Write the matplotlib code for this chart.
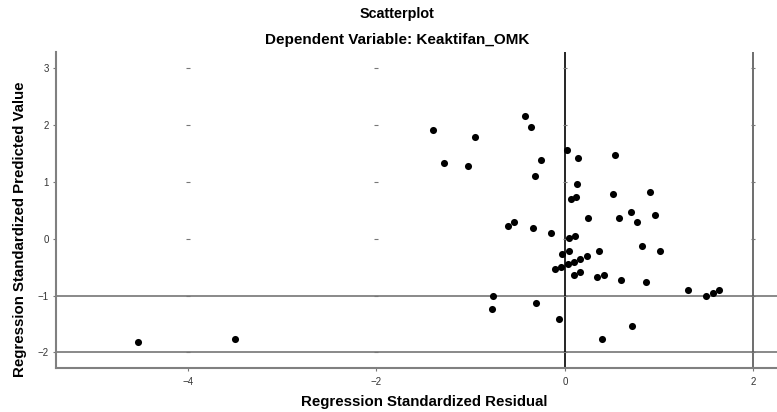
import matplotlib
matplotlib.use("Agg")
import matplotlib.pyplot as plt
import numpy as np

plt.rcParams['font.family'] = ['Liberation Sans', 'DejaVu Sans']

# standardized residual (x) and standardized predicted value (y)
resid = [0.02, -0.25, 0.14, 0.53, -0.32, 0.13, 0.51, 0.90, 0.06, 0.12,
         0.24, 0.57, 0.70, 0.76, 0.96, -0.60, -0.54, -0.34, -0.15, 0.04,
         0.11, 0.82, 1.01, -0.03, 0.04, 0.36, -0.10, -0.04, 0.03, 0.10,
         0.16, 0.23, 0.10, 0.16, 0.34, 0.41, 0.60, 0.86, 1.31, 1.50,
         1.57, 1.63, 0.71, 0.39, -0.76, -0.77, -0.31, -0.06, -1.40, -0.95,
         -1.28, -1.03, -0.42, -0.36, -4.53, -3.50]
pred = [1.56, 1.38, 1.42, 1.47, 1.11, 0.97, 0.79, 0.83, 0.69, 0.74,
        0.37, 0.37, 0.47, 0.29, 0.42, 0.23, 0.29, 0.19, 0.10, 0.01,
        0.05, -0.13, -0.22, -0.27, -0.22, -0.22, -0.54, -0.49, -0.45, -0.41,
        -0.36, -0.31, -0.63, -0.59, -0.68, -0.63, -0.72, -0.76, -0.90, -1.00,
        -0.95, -0.90, -1.54, -1.77, -1.00, -1.23, -1.13, -1.41, 1.92, 1.79,
        1.33, 1.28, 2.16, 1.97, -1.82, -1.77]

x_ticks = [-4, -2, 0, 2]
y_ticks = [-2, -1, 0, 1, 2, 3]
h_refs = [-1, -2]

fig = plt.figure(figsize=(7.77, 4.12), dpi=100)
ax = fig.add_axes([0.072, 0.1075, 0.928, 0.767])

ax.set_xlim(-5.40, 2.25)
ax.set_ylim(-2.27, 3.29)

# reference lines
for yv in h_refs:
    ax.axhline(yv, color='#808080', lw=1.3, zorder=1)
ax.axvline(0, color='black', lw=1.2, zorder=1)
ax.axvline(2, color='#555555', lw=1.2, zorder=1)

# little marks at tick intersections
gx, gy = np.meshgrid(x_ticks, y_ticks)
ax.scatter(gx.ravel(), gy.ravel(), marker='_', s=5, color='#777777', lw=0.8, zorder=1)

ax.scatter(resid, pred, s=26, color='black', zorder=3, linewidths=0)

for s in ['top', 'right']:
    ax.spines[s].set_visible(False)
for s in ['left', 'bottom']:
    ax.spines[s].set_color('#808080')
    ax.spines[s].set_linewidth(1.5)

ax.set_xticks(x_ticks)
ax.set_yticks(y_ticks)
ax.tick_params(length=2, width=0.8, color='#777777', labelsize=7, labelcolor='#333333')
ax.tick_params(axis='x', pad=5)
ax.tick_params(axis='y', pad=3)

fig.text(0.546, 0.024, 'Regression Standardized Residual', ha='center', va='center',
         fontsize=10.8, fontweight='bold')
fig.text(0.026, 0.444, 'Regression Standardized Predicted Value', ha='center', va='center',
         rotation=90, fontsize=10.8, fontweight='bold')

fig.text(0.511, 0.966, 'Scatterplot', ha='center', va='center', fontsize=10.4, fontweight='bold')
fig.text(0.511, 0.903, 'Dependent Variable: Keaktifan_OMK', ha='center', va='center',
         fontsize=11, fontweight='bold')

plt.savefig('out.png', dpi=100)
